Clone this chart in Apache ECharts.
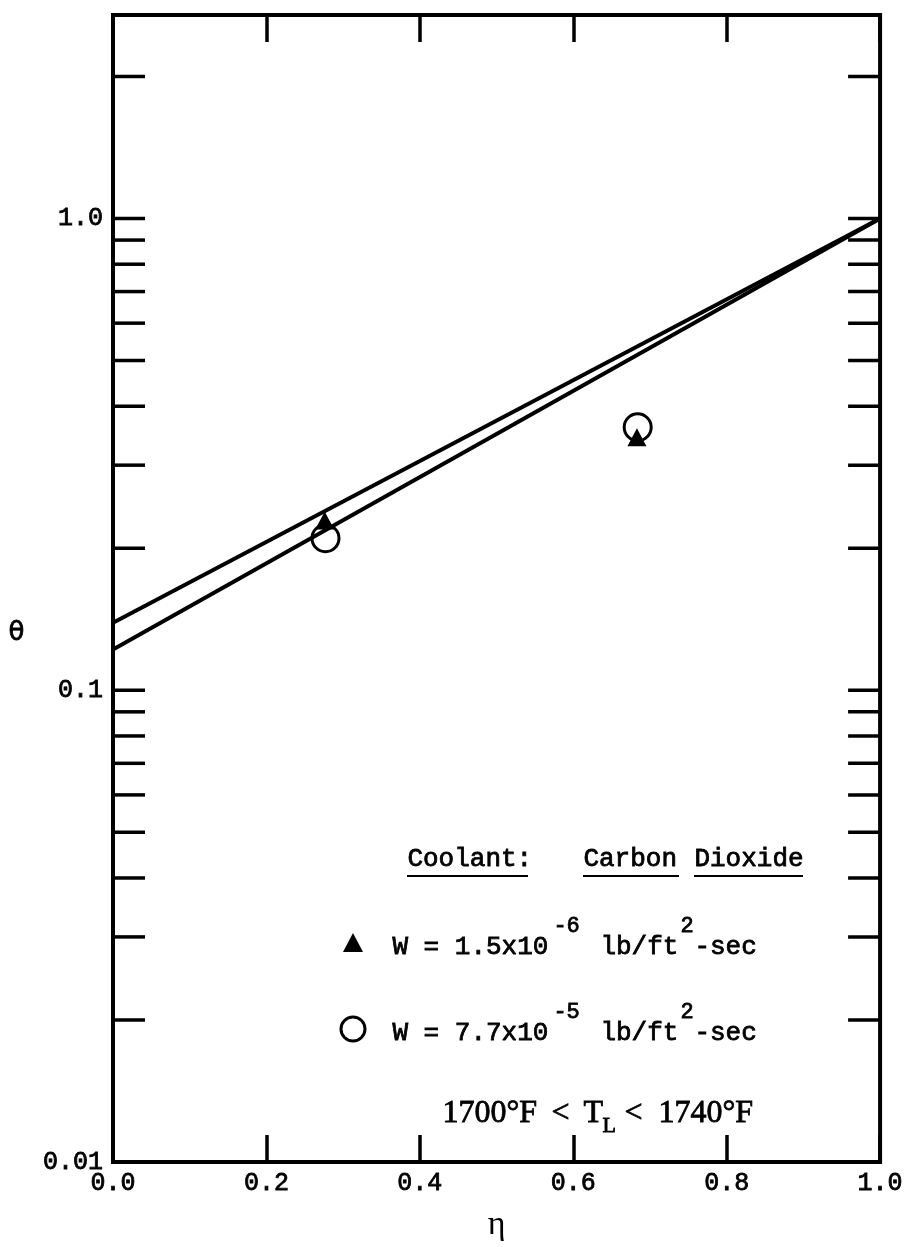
<!DOCTYPE html>
<html>
<head>
<meta charset="utf-8">
<script src="https://cdn.jsdelivr.net/npm/echarts@6/dist/echarts.min.js"></script>
<style>
html,body{margin:0;padding:0;background:#fff;}
#chart{width:906px;height:1247px;}
</style>
</head>
<body>
<div id="chart"></div>
<script>
// ---- data ----
var xTicks = [0.0, 0.2, 0.4, 0.6, 0.8, 1.0];
var yLabelValues = [0.01, 0.1, 1.0];
var yLabelTexts = ['0.01', '0.1', '1.0'];
var yMinorTicks = [0.02,0.03,0.04,0.05,0.06,0.07,0.08,0.09,0.2,0.3,0.4,0.5,0.6,0.7,0.8,0.9,2.0];
var yMajorTicks = [0.1, 1.0];
var lineUpper = [[0.0, 0.139], [1.0, 1.0]];
var lineLower = [[0.0, 0.122], [1.0, 1.0]];
var triangles = [[0.276, 0.229], [0.683, 0.344]];   // W = 1.5x10^-6
var circles = [[0.277, 0.210], [0.684, 0.361]];     // W = 7.7x10^-5

var MONO = '"Liberation Mono", monospace';
var SERIF = '"Liberation Serif", serif';
var INK = 0.8;   // stroke to give the typewriter weight

var chart = echarts.init(document.getElementById('chart'), null, {renderer: 'canvas'});

function tickItem(params, api) {
  var v = api.value(0);
  var pl = api.coord([0, v]);
  var pr = api.coord([1, v]);
  var len = 32;
  var st = {stroke: '#000', lineWidth: 3.5};
  return {
    type: 'group',
    children: [
      {type: 'line', shape: {x1: pl[0], y1: pl[1], x2: pl[0] + len, y2: pl[1]}, style: st},
      {type: 'line', shape: {x1: pr[0], y1: pr[1], x2: pr[0] - len, y2: pr[1]}, style: st}
    ]
  };
}

function txt(x, y, s, size, fam) {
  return {type: 'text', left: x, top: y,
    style: {text: s, fill: '#000', stroke: '#000', lineWidth: INK, font: size + 'px ' + (fam || MONO)}};
}

function legendLine(y, main, sup1) {
  return [
    txt(392, y - 19, main, 26),
    txt(553, y - 38, sup1, 22),
    txt(600, y - 19, 'lb/ft', 26),
    txt(680, y - 38, '2', 22),
    txt(694, y - 19, '-sec', 26)
  ];
}

var graphics = [
  txt(407, 846, 'Coolant:', 26),
  txt(583, 846, 'Carbon', 26),
  txt(694, 846, 'Dioxide', 26),
  {type: 'line', shape: {x1: 407, y1: 876, x2: 528, y2: 876}, style: {stroke: '#000', lineWidth: 2}},
  {type: 'line', shape: {x1: 583, y1: 876, x2: 679, y2: 876}, style: {stroke: '#000', lineWidth: 2}},
  {type: 'line', shape: {x1: 694, y1: 876, x2: 803, y2: 876}, style: {stroke: '#000', lineWidth: 2}},
  {type: 'polygon', shape: {points: [[353, 933], [363, 952], [343, 952]]}, style: {fill: '#000'}},
  {type: 'circle', shape: {cx: 353, cy: 1029, r: 12}, style: {fill: 'none', stroke: '#000', lineWidth: 3}},
  txt(442, 1097, '1700°F', 32, SERIF),
  txt(551, 1097, '<', 32, SERIF),
  txt(583, 1097, 'T', 32, SERIF),
  txt(602, 1115, 'L', 22, SERIF),
  txt(624, 1097, '<', 32, SERIF),
  txt(658, 1097, '1740°F', 32, SERIF),
  txt(8, 620, 'θ', 26, '"DejaVu Sans", sans-serif')
].concat(legendLine(953, 'W = 1.5x10', '-6')).concat(legendLine(1039, 'W = 7.7x10', '-5'));

var option = {
  backgroundColor: '#fff',
  animation: false,
  grid: {left: 113, right: 24, top: 15, bottom: 64, show: true, borderColor: '#000', borderWidth: 4, backgroundColor: 'transparent'},
  xAxis: [
    {
      type: 'value', min: 0, max: 1, interval: 0.2, position: 'bottom',
      axisLine: {show: false},
      axisTick: {show: true, inside: true, length: 27, lineStyle: {color: '#000', width: 3.5}},
      splitLine: {show: false},
      axisLabel: {color: '#000', fontFamily: MONO, fontSize: 25, margin: 9,
        textBorderColor: '#000', textBorderWidth: INK,
        formatter: function (v) { return v.toFixed(1); }},
      name: 'η', nameLocation: 'middle', nameGap: 46,
      nameTextStyle: {color: '#000', fontFamily: SERIF, fontSize: 34}
    },
    {
      type: 'value', min: 0, max: 1, interval: 0.2, position: 'top',
      axisLine: {show: false},
      axisTick: {show: true, inside: true, length: 27, lineStyle: {color: '#000', width: 3.5}},
      splitLine: {show: false},
      axisLabel: {show: false}
    }
  ],
  yAxis: {
    type: 'log', logBase: 10, min: 0.01, max: 2.7,
    axisLine: {show: false},
    axisTick: {show: false},
    splitLine: {show: false},
    minorTick: {show: false},
    axisLabel: {color: '#000', fontFamily: MONO, fontSize: 25, margin: 10, padding: [0, 0, 14, 0],
      textBorderColor: '#000', textBorderWidth: INK,
      showMaxLabel: false,
      formatter: function (v) {
        for (var i = 0; i < yLabelValues.length; i++) {
          if (Math.abs(Math.log10(v) - Math.log10(yLabelValues[i])) < 1e-6) return yLabelTexts[i];
        }
        return '';
      }}
  },
  series: [
    {type: 'custom', renderItem: tickItem, data: yMinorTicks.concat(yMajorTicks).map(function (v) { return [v]; }),
      encode: {y: 0}, silent: true, z: 3},
    {type: 'line', data: lineUpper, symbol: 'none', lineStyle: {color: '#000', width: 4}, z: 4},
    {type: 'line', data: lineLower, symbol: 'none', lineStyle: {color: '#000', width: 4}, z: 4},
    {type: 'scatter', data: circles, symbol: 'circle', symbolSize: 27,
      itemStyle: {color: 'rgba(0,0,0,0)', borderColor: '#000', borderWidth: 3, opacity: 1}, z: 5},
    {type: 'scatter', data: triangles, symbol: 'triangle', symbolSize: [19, 18],
      itemStyle: {color: '#000', opacity: 1}, z: 6}
  ],
  graphic: graphics
};
chart.setOption(option);
</script>
</body>
</html>
